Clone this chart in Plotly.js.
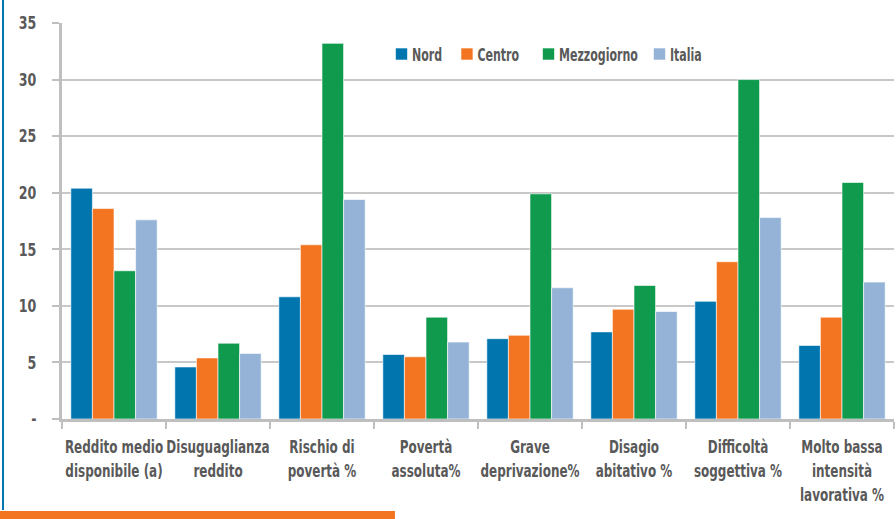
<!DOCTYPE html>
<html>
<head>
<meta charset="utf-8">
<script src="https://cdn.plot.ly/plotly-3.0.1.min.js"></script>
<style>html,body{margin:0;padding:0;background:#fff;}#chart{width:896px;height:519px;}</style>
</head>
<body>
<div id="chart"></div>
<script>
const categories = [
  "Reddito medio<br>disponibile (a)",
  "Disuguaglianza<br>reddito",
  "Rischio di<br>povertà %",
  "Povertà<br>assoluta%",
  "Grave<br>deprivazione%",
  "Disagio<br>abitativo %",
  "Difficoltà<br>soggettiva %",
  "Molto bassa<br>intensità<br>lavorativa %"
];
const seriesNames = ["Nord", "Centro", "Mezzogiorno", "Italia"];
const nord        = [20.4, 4.6, 10.8, 5.7, 7.1, 7.7, 10.4, 6.5];
const centro      = [18.6, 5.4, 15.4, 5.5, 7.4, 9.7, 13.9, 9.0];
const mezzogiorno = [13.1, 6.7, 33.2, 9.0, 19.9, 11.8, 30.0, 20.9];
const italia      = [17.6, 5.8, 19.4, 6.8, 11.6, 9.5, 17.8, 12.1];
const yTickVals = [0, 5, 10, 15, 20, 25, 30, 35];
const yTickText = ["-", "5", "10", "15", "20", "25", "30", "35"];

const FONT = "'DejaVu Sans Condensed', 'DejaVu Sans', sans-serif";
const GREY = "#595959";
function f(size) { return {family: FONT, size: size, color: GREY, weight: "bold", stretch: "condensed"}; }

const colors = ["#0075AE", "#F37521", "#0F9A4E", "#95B3D7"];
const legendIds = ["legend", "legend2", "legend3", "legend4"];
const legendX = [0.384, 0.4627, 0.5607, 0.6941];
const values = [nord, centro, mezzogiorno, italia];

const data = seriesNames.map((name, i) => ({
  type: "bar", name: name, x: categories, y: values[i], legend: legendIds[i],
  marker: {color: colors[i], line: {color: "rgba(255,255,255,0.6)", width: 1}}
}));

function legendCfg(x) {
  return {orientation: "h", x: x, xanchor: "left", y: 0.9205, yanchor: "middle",
          font: f(17), bgcolor: "rgba(0,0,0,0)", borderwidth: 0};
}

const layout = {
  width: 896, height: 519,
  margin: {l: 62, r: 2, t: 23, b: 100},
  paper_bgcolor: "#fff", plot_bgcolor: "#fff",
  barmode: "group", bargap: 0.17, bargroupgap: 0,
  font: f(17),
  showlegend: true,
  legend: legendCfg(legendX[0]),
  legend2: legendCfg(legendX[1]),
  legend3: legendCfg(legendX[2]),
  legend4: legendCfg(legendX[3]),
  xaxis: {
    type: "category", showline: true, linecolor: "#BFBFBF", linewidth: 3,
    ticks: "outside", tickson: "boundaries", ticklen: 7, tickcolor: "#BFBFBF", tickwidth: 2,
    showgrid: false, fixedrange: true, tickangle: 0, ticklabelstandoff: 9,
    tickfont: f(18.5)
  },
  yaxis: {
    range: [0, 35], tickvals: yTickVals, ticktext: yTickText,
    showgrid: true, gridcolor: "#C8C8C8", gridwidth: 2,
    showline: true, linecolor: "#BFBFBF", linewidth: 3,
    ticks: "outside", ticklen: 7, tickcolor: "#BFBFBF", tickwidth: 2,
    ticklabelstandoff: 12, zeroline: false, fixedrange: true,
    tickfont: f(18)
  },
  shapes: [
    {type: "line", xref: "paper", yref: "paper", x0: -0.0709, x1: -0.0709, y0: -0.2298, y1: 1.06,
     line: {color: "#0075AE", width: 2}},
    {type: "rect", xref: "paper", yref: "paper", x0: -0.08, x1: 0.4002, y0: -0.2525, y1: -0.2323,
     fillcolor: "#F37521", line: {width: 0}}
  ]
};

// narrow the glyphs horizontally to imitate the condensed face of the original
function squash(sel, s, dx) {
  document.querySelectorAll(sel).forEach(el => {
    el.style.fontStretch = "condensed";
    const cur = el.getAttribute("transform") || "";
    if (el.dataset.sq && cur === el.dataset.sq) return;
    const ax = parseFloat(el.getAttribute("x")) || 0;
    const t = cur + " translate(" + (ax + dx) + ",0) scale(" + s + ",1) translate(" + (-ax) + ",0)";
    el.setAttribute("transform", t);
    el.dataset.sq = t;
  });
}
function applyAll() {
  squash("#chart .xtick text", 0.72, 0);
  squash("#chart .ytick text", 0.78, 0);
  squash("#chart text.legendtext, #chart text.legend2text, #chart text.legend3text, #chart text.legend4text", 0.72, -9.5);
}

Plotly.newPlot("chart", data, layout, {displayModeBar: false, staticPlot: true}).then(() => {
  applyAll();
  [0, 50, 200, 500].forEach(ms => setTimeout(applyAll, ms));
});
</script>
</body>
</html>
